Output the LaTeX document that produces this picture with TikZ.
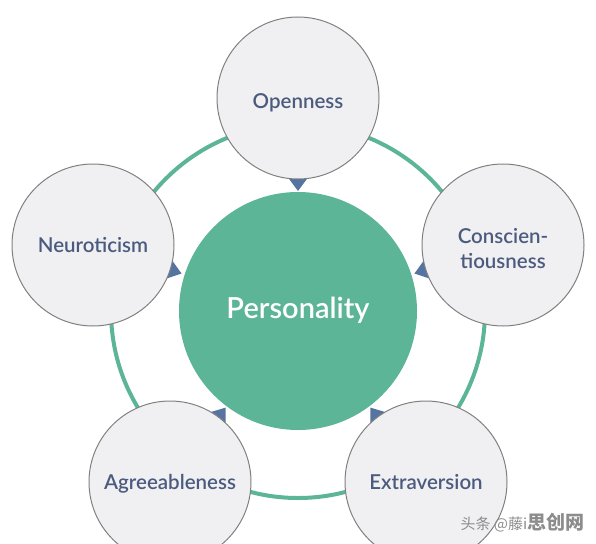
\documentclass[tikz,border=0pt]{standalone}
\usepackage{fontspec}
\setmainfont{Lato}[BoldFont={* Semibold}]
\newfontfamily\cjk{Noto Sans CJK SC}
\usetikzlibrary{calc}
\definecolor{pgreen}{HTML}{5DB597}
\definecolor{cfill}{HTML}{F0F0F2}
\definecolor{cedge}{HTML}{808080}
\definecolor{ctext}{HTML}{4B5B7E}
\definecolor{ctri}{HTML}{5575A0}
\tikzset{
  trait/.style={circle, fill=cfill, draw=cedge, line width=1pt, minimum size=162pt, inner sep=0pt, align=center, text=ctext, font=\bfseries\fontsize{20.5}{25}\selectfont},
  core/.style={circle, fill=pgreen, minimum size=238pt, inner sep=0pt, text=white, font=\bfseries\fontsize{29}{34}\selectfont},
  pointer/.style={fill=ctri},
  ring/.style={draw=pgreen, line width=4pt}
}
\begin{document}
\begin{tikzpicture}[x=1pt,y=-1pt]
\useasboundingbox (0,0) rectangle (596,543);
\coordinate (c) at (298,311);
\draw[ring] (c) circle [radius=187pt];
% positions of trait circles
\coordinate (po) at (298,98);
\coordinate (pc) at (503,245);
\coordinate (pn) at (93,245);
\coordinate (pa) at (170,482);
\coordinate (pe) at (426,482);
% pointers
\foreach \p in {po,pc,pn,pa,pe}{
  \fill[pointer] ($(\p)!93pt!(c)$) -- ($(\p)!75pt!11:(c)$) -- ($(\p)!75pt!-11:(c)$) -- cycle;
}
\node[trait] (open) at (po) {\raisebox{-10pt}[0pt][0pt]{Openness}};
\node[trait] (consc) at (pc) {\raisebox{-23pt}[0pt][0pt]{\begin{tabular}[b]{@{}c@{}}Conscien-\\tiousness\end{tabular}}};
\node[trait] (neuro) at (pn) {\raisebox{-7pt}[0pt][0pt]{Neuroticism}};
\node[trait] (agree) at (pa) {\raisebox{-7pt}[0pt][0pt]{Agreeableness}};
\node[trait] (extra) at (pe) {\raisebox{-7pt}[0pt][0pt]{Extraversion}};
\node[core] (pers) at (c) {\raisebox{-7pt}[0pt][0pt]{Personality}};
\node[anchor=west, text=black!45, font=\cjk\fontsize{15}{17}\selectfont] (wm) at (457,523) {头条 @藤i\textbf{\fontsize{19}{20}\selectfont 思创网}};
\end{tikzpicture}
\end{document}
